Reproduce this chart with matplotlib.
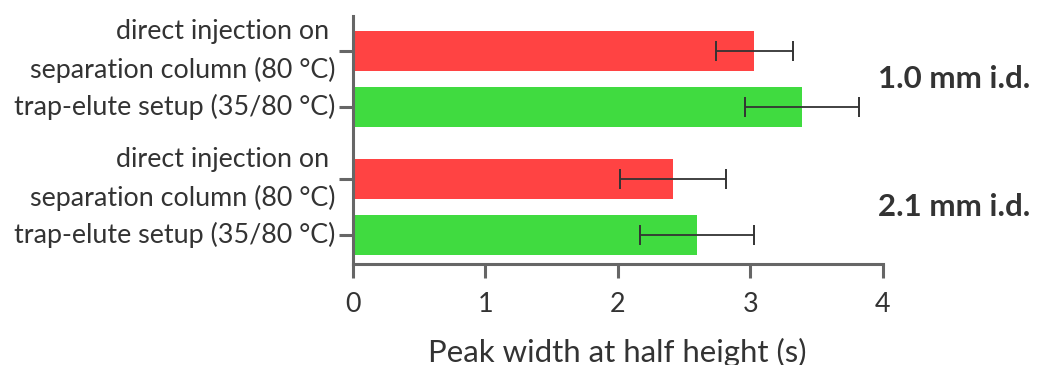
import matplotlib
matplotlib.use("Agg")
import matplotlib.pyplot as plt
import matplotlib.transforms as mtransforms

plt.rcParams['font.family'] = ['Lato', 'DejaVu Sans']

# Peak widths (s) with standard deviations, top to bottom
labels = [
    "direct injection on \nseparation column (80 °C)",
    "trap-elute setup (35/80 °C)",
    "direct injection on \nseparation column (80 °C)",
    "trap-elute setup (35/80 °C)",
]
widths = [3.03, 3.39, 2.42, 2.60]
errors = [0.29, 0.43, 0.40, 0.43]
colors = ["#FF4343", "#40DB40", "#FF4343", "#40DB40"]
groups = ["1.0 mm i.d.", "2.1 mm i.d."]

ypos = [0, 1, 2.29, 3.285]
text_col = "#333333"
axis_col = "#666666"

fig = plt.figure(figsize=(10.38, 3.65), dpi=100)
ax = fig.add_axes([352.5 / 1038, 1 - 264.3 / 365, (882.9 - 352.5) / 1038, (264.3 - 16) / 365])

ax.barh(ypos, widths, height=0.714, color=colors, zorder=2)
ax.errorbar(widths, ypos, xerr=errors, fmt="none", ecolor="#333333",
            elinewidth=1.3, capsize=7.2, capthick=1.4, zorder=3)

ax.set_xlim(0, 4)
ax.set_ylim(3.816, -0.618)
ax.set_xticks([0, 1, 2, 3, 4])
ax.set_yticks(ypos)
ax.set_yticklabels(labels, linespacing=1.62)
for lab in ax.get_yticklabels():
    lab.set_verticalalignment("center")

for s in ["top", "right"]:
    ax.spines[s].set_visible(False)
for s in ["left", "bottom"]:
    ax.spines[s].set_color(axis_col)
    ax.spines[s].set_linewidth(2.2)

ax.tick_params(axis="both", colors=axis_col, width=2.2, length=10,
               labelcolor=text_col, labelsize=19.4)
ax.tick_params(axis="x", pad=10)
ax.tick_params(axis="y", pad=2)

ax.set_xlabel("Peak width at half height (s)", fontsize=22.4, color=text_col, labelpad=15)

# group labels on the right, centred on each pair of bars
trans = mtransforms.blended_transform_factory(fig.transFigure, ax.transData)
for name, y0, y1 in zip(groups, ypos[0::2], ypos[1::2]):
    ax.text(878 / 1038, (y0 + y1) / 2, name, transform=trans, ha="left", va="center",
            fontsize=22.5, fontweight="bold", color=text_col)

fig.savefig("out.png", dpi=100)
